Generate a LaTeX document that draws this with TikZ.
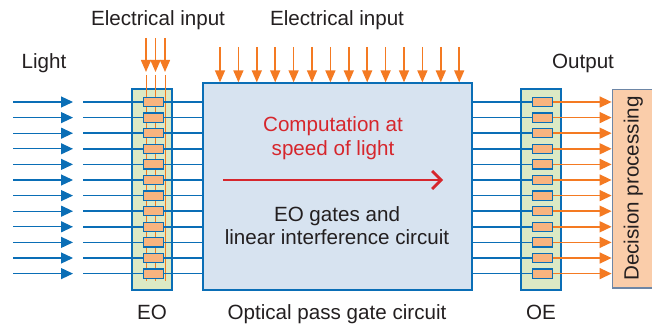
\documentclass[tikz,border=0pt]{standalone}
\usepackage{fontspec}
\setmainfont{Liberation Sans}
\usetikzlibrary{arrows.meta,positioning}
\definecolor{pgBlue}{HTML}{0A6EB6}
\definecolor{pgPale}{HTML}{D7E3F0}
\definecolor{pgGreen}{HTML}{DCE9C4}
\definecolor{pgOrange}{HTML}{F47A22}
\definecolor{pgPeach}{HTML}{F8B47F}
\definecolor{pgDecide}{HTML}{FACDAA}
\definecolor{pgSlate}{HTML}{6D86A6}
\definecolor{pgRed}{HTML}{D6262C}
\definecolor{ink}{HTML}{231F20}
\newcommand{\PgFont}{\fontsize{20.6}{23.5}\selectfont}
\tikzset{
  lightray/.style={pgBlue, line width=1.2pt, -{Triangle[length=12pt,width=11pt]}},
  guide/.style={pgBlue, line width=1.5pt},
  einput/.style={pgOrange, line width=1.5pt, -{Triangle[length=12pt,width=10pt]}},
  eline/.style={pgOrange, line width=1pt},
  oout/.style={pgOrange, line width=1.5pt, -{Triangle[length=12pt,width=11pt]}},
  convbox/.style={draw=pgBlue, line width=1.8pt, fill=pgGreen, inner sep=0pt,
    minimum width=40.3pt, minimum height=200.7pt},
  cell/.style={draw=pgBlue, line width=1.2pt, fill=pgPeach, inner sep=0pt,
    minimum width=20pt, minimum height=9.3pt},
  lbl/.style={font=\PgFont, ink, inner sep=0pt, anchor=base},
}
\begin{document}
\begin{tikzpicture}[x=1pt,y=-1pt]
  \useasboundingbox (0,0) rectangle (652,328);
  \clip (0,0) rectangle (652,328);
  \def\rowA{102}\def\rowsep{15.6}

  % boxes
  \node[convbox] (eo) at (151.8,189.6) {};
  \node[convbox] (oe) at (540.8,189.6) {};
  \node[draw=pgBlue, line width=2pt, fill=pgPale, inner sep=0pt,
    minimum width=268.4pt, minimum height=206.7pt] (pgc) at (337.5,186.7) {};
  \node[draw=pgSlate, line width=1.4pt, fill=pgDecide, inner sep=0pt,
    minimum width=42pt, minimum height=198.7pt] (dec) at (633.3,188.6)
    {\rotatebox{90}{\PgFont\color{ink}Decision processing}};

  % electrical input to EO
  \foreach \xx [count=\k] in {146,155.5,165} {
    \coordinate (ein-\k) at (\xx,38);
    \draw[einput] (ein-\k) -- (\xx,72);
    \draw[eline] (\xx,75) -- (\xx,281);
  }

  % electrical input to gate circuit
  \foreach \j in {0,...,13} {
    \pgfmathsetmacro{\xx}{220+18.4*\j}
    \coordinate (gin-\j) at (\xx,47);
    \draw[einput] (gin-\j) -- (gin-\j |- pgc.north);
  }

  % optical rows
  \foreach \i in {0,...,11} {
    \pgfmathsetmacro{\yy}{\rowA+\rowsep*\i}
    \coordinate (src-\i) at (13,\yy);
    \coordinate (tip-\i) at (73,\yy);
    \draw[lightray] (src-\i) -- (tip-\i);
    \coordinate (wg-\i) at (83,\yy);
    \draw[guide] (wg-\i) -- (pgc.west |- wg-\i);
    \node[cell] (ec-\i) at (153.3,\yy) {};
    \node[cell] (oc-\i) at (542.7,\yy) {};
    \draw[guide] (pgc.east |- oc-\i) -- (oc-\i.west);
    \draw[oout] (oc-\i.east) -- (dec.west |- oc-\i);
  }

  % inside the gate circuit
  \node[font=\PgFont, pgRed, align=center, inner sep=0pt] (speed) at (333,138.3)
    {Computation at\\speed of light};
  \coordinate (flow-s) at (223,180);
  \coordinate (flow-e) at (443,180);
  \draw[pgRed, line width=2.8pt, -{Straight Barb[length=9pt,width=18pt]}] (flow-s) -- (flow-e);
  \node[font=\PgFont, ink, align=center, inner sep=0pt] (gates) at (337,225.5)
    {EO gates and\\linear interference circuit};

  % labels
  \node[lbl] (light) at (44,68.3) {Light};
  \node[lbl] (ein) at (158,26) {Electrical input};
  \node[lbl] (gin) at (337,26) {Electrical input};
  \node[lbl] (out) at (583,68.3) {Output};
  \node[lbl] (eolbl) at (152,319.3) {EO};
  \node[lbl] (pgclbl) at (337,319.3) {Optical pass gate circuit};
  \node[lbl] (oelbl) at (541,319.3) {OE};
\end{tikzpicture}
\end{document}
